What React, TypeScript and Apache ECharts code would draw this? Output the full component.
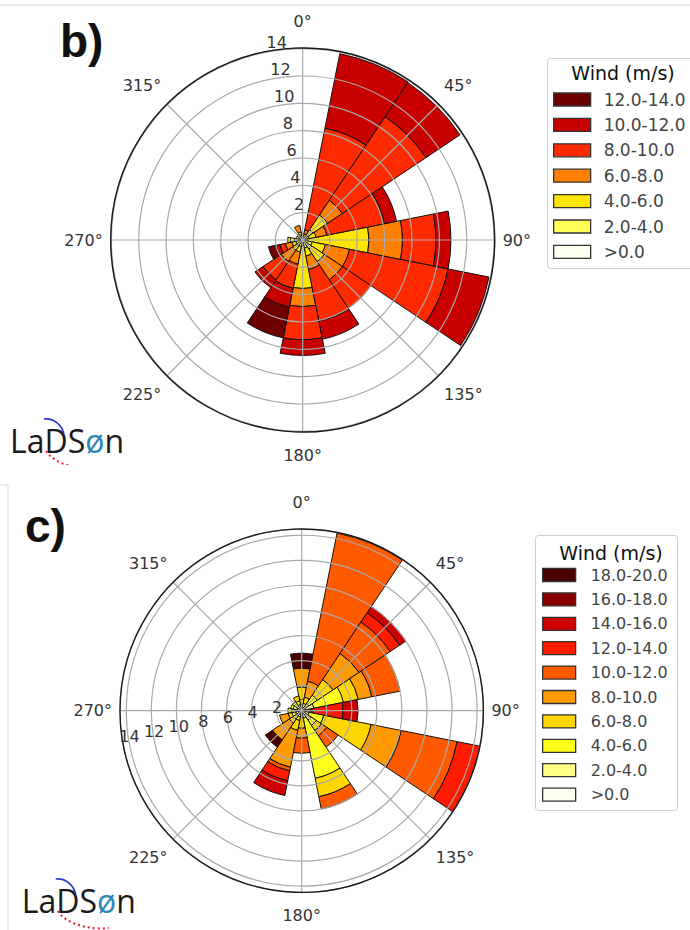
import React, { useEffect, useRef } from 'react';
import * as echarts from 'echarts';

// ---------- shared axes ----------
const DIRECTIONS = ['N', 'NNE', 'NE', 'ENE', 'E', 'ESE', 'SE', 'SSE', 'S', 'SSW', 'SW', 'WSW', 'W', 'WNW', 'NW', 'NNW'];
const ANGLE_TICK_STEP = 45;
const RADIUS_TICK_STEP = 2;
const LEGEND_TITLE = 'Wind (m/s)';

// ---------- panel b) ----------
const B_BINS = ['>0.0', '2.0-4.0', '4.0-6.0', '6.0-8.0', '8.0-10.0', '10.0-12.0', '12.0-14.0'];
const B_COLORS = ['#fffff0', '#ffff55', '#ffe600', '#ff8000', '#ff2a00', '#c80000', '#6e0000'];
const B_MAX = 14.05;
const bGt0 = [0.2, 0.1, 0.4, 0.2, 0.1, 0.2, 0.3, 0.2, 0.1, 0.2, 0.2, 0.2, 0.6, 0.3, 0.3, 0.2];
const b2to4 = [0.1, 0.15, 0.5, 0.3, 0.3, 0.5, 0.5, 0.4, 0.3, 0.3, 0.3, 0.3, 0.3, 0.2, 0.2, 0.2];
const b4to6 = [0.1, 0.2, 1.3, 0.5, 4.45, 1.0, 1.1, 0.6, 3.15, 0.4, 0.4, 0.3, 0.2, null, null, 0.2];
const b6to8 = [0.1, 0.3, 1.3, 0.8, 2.45, 1.8, 1.6, 1.0, 1.33, 0.9, 1.0, 0.5, null, null, null, 0.5];
const b8to10 = [null, 7.6, 7.35, 4.3, 2.45, 7.35, 2.5, 3.85, 2.42, 1.8, 1.6, 0.4, null, null, null, null];
const b10to12 = [null, 5.55, 3.0, 0.9, 1.1, 3.05, null, 1.35, 1.15, 1.4, 0.7, 0.3, null, null, null, null];
const b12to14 = [null, null, null, null, null, null, null, null, null, 2.3, null, 0.55, null, null, null, null];

// ---------- panel c) ----------
const C_BINS = ['>0.0', '2.0-4.0', '4.0-6.0', '6.0-8.0', '8.0-10.0', '10.0-12.0', '12.0-14.0', '14.0-16.0', '16.0-18.0', '18.0-20.0'];
const C_COLORS = ['#fffff0', '#ffff88', '#ffff1e', '#ffd700', '#ff9a00', '#ff5a00', '#ff1a00', '#cc0000', '#8b0000', '#4a0000'];
const C_MAX = 14.5;
const cGt0 = [0.2, 0.1, 0.2, 0.3, 0.2, 0.2, 0.3, 0.2, 0.1, 0.2, 0.2, 0.2, 0.4, 0.4, 0.3, 0.2];
const c2to4 = [0.3, 0.2, 0.5, 0.7, 0.2, 0.4, 0.6, 0.4, 0.2, 0.3, 0.3, 0.3, 0.4, 0.3, 0.3, 0.3];
const c4to6 = [0.4, 0.3, 0.8, 2.4, 0.2, 1.2, 0.5, 4.9, 0.2, 0.3, 0.3, 0.3, 0.3, 0.2, 0.3, 0.3];
const c6to8 = [1.0, 0.5, 1.5, 1.2, 0.1, 3.85, 0.5, 1.5, 0.9, 0.8, 0.4, 0.3, null, null, null, 0.4];
const c8to10 = [1.5, 1.3, 2.5, 1.1, 0.1, 2.45, 0.5, null, 0.8, 3.0, 1.6, 0.7, null, null, null, null];
const c10to12 = [null, 12.05, 3.0, 2.3, 0.1, 4.55, 1.1, 1.0, 1.2, 0.3, null, null, null, null, null, null];
const c12to14 = [null, null, 0.9, null, 2.4, 1.85, null, null, null, 0.8, null, null, null, null, null, null];
const c14to16 = [null, null, 0.6, null, 1.2, null, null, null, null, 1.2, null, null, null, null, null, null];
const c16to18 = [null, null, null, null, null, null, null, null, null, null, null, null, null, null, null, null];
const c18to20 = [1.2, null, null, null, null, null, null, null, null, null, 0.7, null, null, null, null, null];

const FONT = 'DejaVu Sans';

type PanelCfg = {
  label: string;
  labelPos: [number, number];
  center: [number, number];
  radius: number;
  max: number;
  bins: string[];
  colors: string[];
  values: (number | null)[][];
  rLabelAngle: number;
  legendBox: [number, number, number, number];
  legendTitlePos: [number, number];
  legendLeft: number;
  legendTop: number;
  legendItemW: number;
  legendGap: number;
  legendFont: number;
  legendTextPad: number;
  logoPos: [number, number];
  extraLines: any[];
};

function angleFormatter(v: number) {
  if (v >= 360) return '';
  if (v === 0) return '{t|0°}';
  if (v === 180) return '{b|180°}';
  if (v === 45 || v === 315) return '{u|' + v + '°}';
  if (v === 135 || v === 225) return '{l|' + v + '°}';
  return '{s|' + v + '°}';
}

function buildOption(p: PanelCfg) {
  const legendData = [...p.bins].reverse();
  const lx = p.logoPos[0];
  const ly = p.logoPos[1];
  const lbl = { fontFamily: FONT, fontSize: 16, color: '#333' };
  return {
    animation: false,
    backgroundColor: '#ffffff',
    polar: [
      { center: p.center, radius: p.radius },
      { center: p.center, radius: p.radius },
      { center: p.center, radius: p.radius },
    ],
    angleAxis: [
      {
        polarIndex: 0, type: 'category', data: DIRECTIONS, startAngle: 90 + 360 / DIRECTIONS.length / 2,
        clockwise: true, show: false,
      },
      {
        polarIndex: 1, type: 'value', min: 0, max: 360, interval: ANGLE_TICK_STEP, startAngle: 90, clockwise: true, z: 5,
        axisLine: { show: true, lineStyle: { color: '#1a1a1a', width: 1.4 } },
        axisTick: { show: false },
        splitLine: { show: true, lineStyle: { color: '#a9a9a9', width: 1.2 } },
        axisLabel: {
          show: true, margin: 8, formatter: angleFormatter, ...lbl,
          rich: {
            t: { padding: [0, 0, 11, 0], ...lbl },
            b: { padding: [7, 0, 0, 0], ...lbl },
            u: { padding: [0, 0, 5, 0], ...lbl },
            l: { padding: [5, 0, 0, 0], ...lbl },
            s: { ...lbl },
          },
        },
      },
      { polarIndex: 2, type: 'value', min: 0, max: 360, startAngle: p.rLabelAngle, clockwise: true, show: false },
    ],
    radiusAxis: [
      { polarIndex: 0, type: 'value', min: 0, max: p.max, show: false },
      {
        polarIndex: 1, type: 'value', min: 0, max: p.max, interval: RADIUS_TICK_STEP, z: 5,
        axisLine: { show: false }, axisTick: { show: false }, axisLabel: { show: false },
        splitLine: { show: true, lineStyle: { color: '#a9a9a9', width: 1.2 } },
      },
      {
        polarIndex: 2, type: 'value', min: 0, max: p.max, interval: RADIUS_TICK_STEP, z: 6,
        axisLine: { show: false }, axisTick: { show: false }, splitLine: { show: false },
        axisLabel: {
          show: true, margin: 0, align: 'center', verticalAlign: 'bottom', ...lbl,
          showMinLabel: false,
          formatter: (v: number) => (v > 0 && Math.abs(v % RADIUS_TICK_STEP) < 1e-9 ? String(v) : ''),
        },
      },
    ],
    legend: {
      orient: 'vertical', left: p.legendLeft, top: p.legendTop, padding: 0,
      itemWidth: p.legendItemW, itemHeight: 13, itemGap: p.legendGap, icon: 'rect',
      selectedMode: false, data: legendData,
      itemStyle: { borderColor: '#333', borderWidth: 1.3 },
      textStyle: { fontFamily: FONT, fontSize: p.legendFont, color: '#444', padding: [0, 0, 0, p.legendTextPad] },
    },
    series: p.bins.map((name, i) => ({
      type: 'bar', coordinateSystem: 'polar', polarIndex: 0, name, stack: 'wind',
      data: p.values[i], barCategoryGap: '0%', z: 2,
      itemStyle: { color: p.colors[i], borderColor: '#111', borderWidth: 1 },
      emphasis: { disabled: true }, silent: true,
    })),
    graphic: [
      ...p.extraLines,
      {
        type: 'rect', left: p.legendBox[0], top: p.legendBox[1], z: 0,
        shape: { width: p.legendBox[2], height: p.legendBox[3], r: 3 },
        style: { fill: '#fff', stroke: '#cfcfcf', lineWidth: 1 },
      },
      {
        type: 'text', x: p.legendTitlePos[0], y: p.legendTitlePos[1], z: 10,
        style: { text: LEGEND_TITLE, fill: '#111', font: '19px "DejaVu Sans"', align: 'center', verticalAlign: 'middle' },
      },
      {
        type: 'text', x: p.labelPos[0], y: p.labelPos[1], z: 10,
        style: { text: p.label, fill: '#111', font: 'bold 46px "Liberation Sans"', align: 'left', verticalAlign: 'middle' },
      },
      {
        type: 'text', x: lx, y: ly, z: 10,
        style: {
          text: '{k|LaDS}{o|ø}{k|n}', align: 'left', verticalAlign: 'middle',
          rich: {
            k: { fill: '#1a1a1a', font: '32px "Open Sans"' },
            o: { fill: '#2f86b8', font: '32px "Open Sans"' },
          },
        },
      },
      {
        type: 'bezierCurve', z: 11,
        shape: { x1: lx + 36, y1: ly + 11, cpx1: lx + 45, cpy1: ly + 25, x2: lx + 87, y2: ly + 28, cpx2: lx + 70, cpy2: ly + 30 },
        style: { stroke: '#e8202a', lineWidth: 2, lineDash: [2, 3], fill: null },
      },
      {
        type: 'bezierCurve', z: 11,
        shape: { x1: lx + 34, y1: ly - 21, cpx1: lx + 45, cpy1: ly - 22, x2: lx + 54, y2: ly - 6, cpx2: lx + 52, cpy2: ly - 14 },
        style: { stroke: '#2a35c8', lineWidth: 1.6, fill: null },
      },
    ],
  };
}

const PANEL_B: PanelCfg = {
  label: 'b)', labelPos: [60, 41], center: [302.7, 240], radius: 192, max: B_MAX,
  bins: B_BINS, colors: B_COLORS, values: [bGt0, b2to4, b4to6, b6to8, b8to10, b10to12, b12to14],
  rLabelAngle: 97.8,
  legendBox: [547, 58, 150, 210], legendTitlePos: [623, 73],
  legendLeft: 553, legendTop: 91, legendItemW: 37, legendGap: 8.4, legendFont: 17, legendTextPad: 8,
  logoPos: [10, 440],
  extraLines: [
    { type: 'line', shape: { x1: 0, y1: 5, x2: 690, y2: 5 }, style: { stroke: '#d4d4d4', lineWidth: 1 } },
  ],
};

const PANEL_C: PanelCfg = {
  label: 'c)', labelPos: [25, 61], center: [301.7, 245.7], radius: 181.7, max: C_MAX,
  bins: C_BINS, colors: C_COLORS,
  values: [cGt0, c2to4, c4to6, c6to8, c8to10, c10to12, c12to14, c14to16, c16to18, c18to20],
  rLabelAngle: 191,
  legendBox: [535, 70, 142, 275], legendTitlePos: [611, 87.6],
  legendLeft: 542, legendTop: 102, legendItemW: 33, legendGap: 8.4, legendFont: 16, legendTextPad: 10,
  logoPos: [21.7, 435],
  extraLines: [
    { type: 'line', shape: { x1: 8, y1: 20, x2: 8, y2: 465 }, style: { stroke: '#dcdcdc', lineWidth: 1 } },
    { type: 'line', shape: { x1: 0, y1: 20, x2: 8, y2: 20 }, style: { stroke: '#dcdcdc', lineWidth: 1 } },
  ],
};

function Panel({ cfg }: { cfg: PanelCfg }) {
  const ref = useRef<HTMLDivElement>(null);
  useEffect(() => {
    if (!ref.current) return;
    const chart = echarts.init(ref.current, undefined, { renderer: 'svg' });
    chart.setOption(buildOption(cfg) as any);
    return () => chart.dispose();
  }, [cfg]);
  return <div ref={ref} style={{ width: 690, height: 465 }} />;
}

export default function App() {
  return (
    <div style={{ position: 'fixed', left: 0, top: 0, width: 690, height: 930, background: '#fff' }}>
      <Panel cfg={PANEL_B} />
      <Panel cfg={PANEL_C} />
    </div>
  );
}
